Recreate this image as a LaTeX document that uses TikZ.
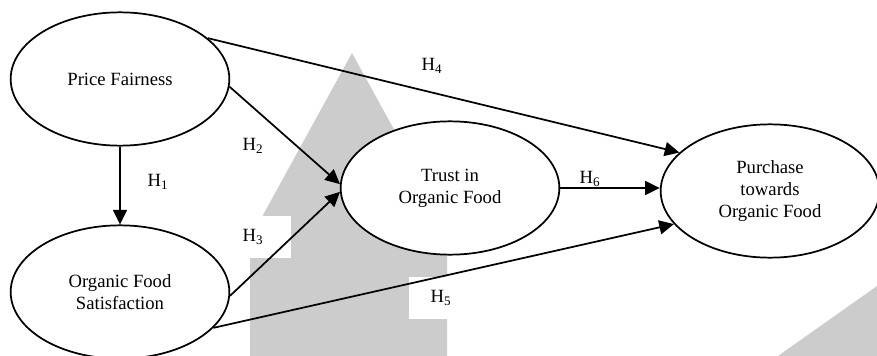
\documentclass[tikz,border=0pt]{standalone}
\usepackage{fontspec}
\setmainfont{Liberation Serif}
\usepackage{xcolor}
\definecolor{cLine}{HTML}{000000}
\definecolor{cMark}{HTML}{CCCCCC}
\usetikzlibrary{positioning,arrows.meta,shapes.geometric}
\tikzset{
  node-construct/.style={draw=cLine,line width=1.3pt,ellipse,fill=white,
    minimum width=164pt,minimum height=100pt,inner sep=0pt,align=center,
    font=\fontsize{14}{16.5}\selectfont},
  node-hyp/.style={inner sep=0pt,font=\fontsize{14}{16}\selectfont},
  node-hyp-box/.style={node-hyp,fill=white,minimum height=32pt},
  arrow-path/.style={-{Triangle[length=11pt,width=10.5pt]},line width=1.3pt,draw=cLine},
  mark-shape/.style={fill=cMark,draw=none},
}

\begin{document}
\begin{tikzpicture}[x=0.75pt,y=-0.75pt]
  \useasboundingbox (0,0) rectangle (877,356);

  % grey watermark behind the model
  \fill[mark-shape] (352,53) -- (263,215) -- (263,258) -- (250,258) -- (250,356)
    -- (447,356) -- (447,215) -- (441,215) -- cycle;
  \fill[mark-shape] (877,286) -- (778,356) -- (877,356) -- cycle;

  % hypothesis labels
  \node[node-hyp] (h1) at (158,182) {H\textsubscript{1}};
  \node[node-hyp] (h2) at (253,146) {H\textsubscript{2}};
  \node[node-hyp-box,minimum width=57pt] (h3) at (253,237) {H\textsubscript{3}};
  \node[node-hyp] (h4) at (432,66)  {H\textsubscript{4}};
  \node[node-hyp-box,anchor=west,inner xsep=16pt] (h5) at (409,298) {H\textsubscript{5}};
  \node[node-hyp] (h6) at (590,179) {H\textsubscript{6}};

  % constructs
  \node[node-construct] (pf)    at (120,79)  {Price Fairness};
  \node[node-construct] (ofs)   at (120,292) {Organic Food\\Satisfaction};
  \node[node-construct] (trust) at (450,188) {Trust in\\Organic Food};
  \node[node-construct] (purch) at (770,191) {Purchase\\towards\\Organic Food};

  % paths
  \draw[arrow-path] (pf) -- (ofs);
  \draw[arrow-path] (pf.-4) -- (trust.178);
  \draw[arrow-path] (ofs.-2) -- (trust.182);
  \draw[arrow-path] (pf.25) -- (purch.157);
  \draw[arrow-path] (ofs.-21) -- (purch.-161);
  \draw[arrow-path] (trust.east) -- (trust.east -| purch.west);
\end{tikzpicture}
\end{document}
